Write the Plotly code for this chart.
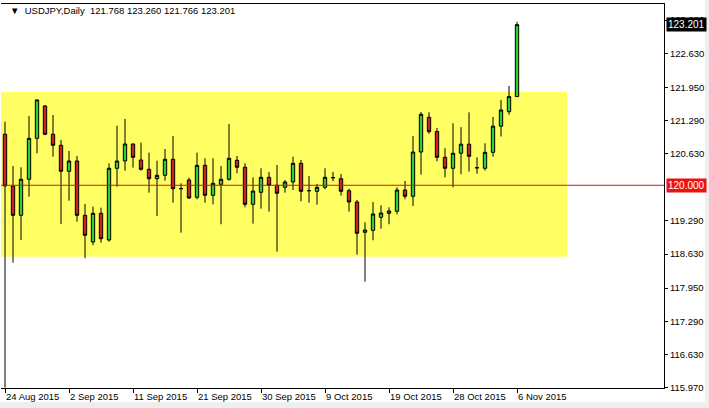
import pandas as pd
import plotly.graph_objects as go

# Daily bars (MT4 style, Sunday bars included, Saturdays excluded)
all_days = pd.date_range("2015-08-24", "2015-11-06", freq="D")
dates = [d.strftime("%Y-%m-%d") for d in all_days if d.weekday() != 5]

opens = [121.016, 119.986, 119.402, 120.120, 120.936, 121.580, 121.016, 120.797, 120.279, 120.484,
         119.402, 118.870, 119.442, 118.910, 120.339, 120.484, 120.823, 120.504, 120.319, 120.131,
         120.199, 120.518, 119.932, 120.106, 119.761, 120.398, 119.801, 120.020, 120.120, 120.498,
         120.359, 119.621, 119.861, 120.159, 120.000, 119.960, 120.066, 120.438, 119.892, 119.880,
         119.960, 120.151, 120.131, 119.892, 119.667, 119.064, 119.103, 119.362, 119.442, 119.482,
         119.906, 119.781, 120.663, 121.355, 121.072, 120.558, 120.339, 120.638, 120.819, 120.349,
         120.339, 120.657, 121.178, 121.466, 121.768]
highs = [121.267, 120.385, 120.359, 121.381, 121.713, 121.600, 121.401, 120.903, 120.683, 120.584,
         119.627, 119.574, 119.554, 120.438, 121.187, 121.321, 120.830, 120.849, 120.650, 120.490,
         120.723, 120.982, 120.040, 120.151, 120.650, 120.538, 120.538, 120.385, 121.221, 120.584,
         120.438, 120.159, 120.339, 120.265, 120.404, 120.106, 120.570, 120.504, 120.185, 120.026,
         120.339, 120.265, 120.225, 119.932, 119.707, 119.263, 119.667, 119.602, 119.562, 119.960,
         120.086, 120.982, 121.460, 121.454, 121.142, 120.739, 121.237, 121.158, 121.454, 120.558,
         120.837, 121.361, 121.700, 121.978, 123.260]
lows = [115.970, 118.458, 118.910, 119.773, 120.638, 121.000, 120.570, 119.229, 119.693, 119.275,
        118.546, 118.805, 118.856, 118.876, 119.972, 120.291, 120.351, 120.291, 119.853, 119.388,
        120.092, 119.653, 119.056, 119.727, 119.721, 119.653, 119.621, 119.223, 120.092, 120.239,
        119.562, 119.235, 119.534, 119.474, 118.677, 119.853, 119.906, 119.681, 119.653, 119.613,
        119.920, 120.080, 119.793, 119.474, 118.617, 118.079, 118.904, 119.135, 119.223, 119.422,
        119.721, 119.588, 120.211, 121.028, 120.478, 120.159, 119.960, 120.221, 120.271, 120.231,
        120.291, 120.570, 120.972, 121.407, 121.766]
closes = [119.986, 119.402, 120.120, 120.936, 121.700, 121.016, 120.797, 120.279, 120.484, 119.402,
          119.004, 119.442, 118.936, 120.339, 120.484, 120.823, 120.558, 120.319, 120.131, 120.199,
          120.518, 119.932, 119.934, 119.747, 120.398, 119.801, 120.040, 120.120, 120.538, 120.359,
          119.621, 119.886, 120.159, 120.000, 119.841, 120.066, 120.438, 119.880, 119.893, 119.960,
          120.159, 120.152, 119.880, 119.667, 119.044, 119.109, 119.428, 119.448, 119.488, 119.906,
          119.781, 120.663, 121.415, 121.068, 120.558, 120.339, 120.638, 120.819, 120.578, 120.350,
          120.657, 121.178, 121.500, 121.768, 123.201]

tick_dates = ["2015-08-24", "2015-09-02", "2015-09-11", "2015-09-21", "2015-09-30",
              "2015-10-09", "2015-10-19", "2015-10-28", "2015-11-06"]
tick_labels = ["24 Aug 2015", "2 Sep 2015", "11 Sep 2015", "21 Sep 2015", "30 Sep 2015",
               "9 Oct 2015", "19 Oct 2015", "28 Oct 2015", "6 Nov 2015"]
price_ticks = [123.290, 122.630, 121.950, 121.290, 120.630, 119.290, 118.630,
               117.950, 117.290, 116.630, 115.970]

zone_low, zone_high = 118.577, 121.865
zone_end_index = 70.25
level = 120.000
last_close = 123.201
header = "USDJPY,Daily  121.768 123.260 121.766 123.201"

fig = go.Figure()
fig.add_trace(go.Candlestick(
    x=dates, open=opens, high=highs, low=lows, close=closes,
    increasing=dict(fillcolor="#33CC33", line=dict(color="black", width=1)),
    decreasing=dict(fillcolor="#CC2222", line=dict(color="black", width=1)),
    whiskerwidth=0, hoverinfo="skip", showlegend=False,
))

# yellow range zone
fig.add_shape(type="rect", xref="x", yref="y", x0=-0.5, x1=zone_end_index,
              y0=zone_low, y1=zone_high, fillcolor="#FFFF64", line=dict(width=0),
              layer="below")
# horizontal level line
fig.add_shape(type="line", xref="paper", yref="y", x0=0, x1=1, y0=level, y1=level,
              line=dict(color="#DD1111", width=1))

# outer window edges (light grey)
W_PLOT = 663.0
H_PLOT = 384.0
fig.add_shape(type="rect", xref="paper", yref="paper",
              x0=(705 - 1) / W_PLOT, x1=(712 - 1) / W_PLOT,
              y0=(388 - 412) / H_PLOT, y1=(388 + 6) / H_PLOT,
              fillcolor="#EEEEEE", line=dict(width=0), layer="below")
fig.add_shape(type="rect", xref="paper", yref="paper",
              x0=(-4 - 1) / W_PLOT, x1=(712 - 1) / W_PLOT,
              y0=(388 - 412) / H_PLOT, y1=(388 - 402) / H_PLOT,
              fillcolor="#EEEEEE", line=dict(width=0), layer="below")

font_family = "Liberation Sans, Arial, sans-serif"

# price labels on the axis
fig.add_annotation(xref="paper", yref="y", x=1, y=level, xanchor="left", yanchor="middle",
                   xshift=2, text=f"{level:.3f}", showarrow=False, bgcolor="#EE1111",
                   font=dict(color="white", size=10, family=font_family), borderpad=1)
fig.add_annotation(xref="paper", yref="y", x=1, y=last_close, xanchor="left", yanchor="middle",
                   xshift=2, text=f"{last_close:.3f}", showarrow=False, bgcolor="black",
                   font=dict(color="white", size=10, family=font_family), borderpad=1)

# header
fig.add_annotation(xref="paper", yref="paper", x=(8 - 1) / W_PLOT, y=(388 - 10) / H_PLOT,
                   xanchor="left", yanchor="middle", showarrow=False,
                   text="▼  " + header,
                   font=dict(color="black", size=9.5, family=font_family))

fig.update_layout(
    width=709, height=408, autosize=False,
    margin=dict(l=1, r=45, t=4, b=20),
    paper_bgcolor="white", plot_bgcolor="white",
    boxgap=0.4,
    font=dict(family=font_family, size=9.5, color="black"),
    xaxis=dict(type="category", range=[-0.5, 82.375], rangeslider=dict(visible=False),
               tickmode="array", tickvals=tick_dates, ticktext=tick_labels,
               ticks="outside", ticklen=4, tickcolor="black",
               ticklabelposition="outside right",
               showgrid=False, zeroline=False, showline=True, mirror=True,
               linecolor="black", linewidth=1,
               tickfont=dict(size=9.5, family=font_family, color="black")),
    yaxis=dict(side="right", range=[115.961, 123.612],
               tickmode="array", tickvals=price_ticks,
               ticktext=[f"{v:.3f}" for v in price_ticks],
               ticks="outside", ticklen=3, tickcolor="black",
               showgrid=False, zeroline=False, showline=True,
               linecolor="black", linewidth=1,
               tickfont=dict(size=9.5, family=font_family, color="black")),
)

fig.write_html("out.html",
               config={"displayModeBar": False, "staticPlot": True},
               post_script="document.body.style.margin='0';document.body.style.padding='0';"
                           "document.body.style.overflow='hidden';")
